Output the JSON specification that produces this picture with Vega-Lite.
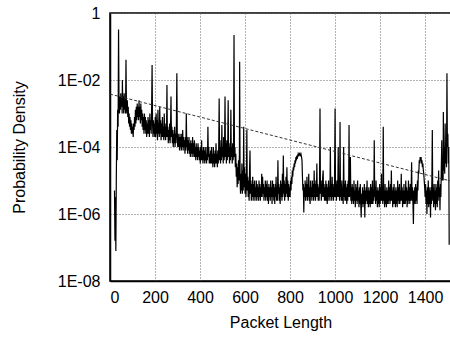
{
  "$schema": "https://vega.github.io/schema/vega-lite/v6.json",
  "width": 341,
  "height": 268,
  "autosize": {"type": "none"},
  "padding": {"left": 110, "top": 13, "right": 0, "bottom": 56},
  "background": "white",
  "config": {
    "font": "Liberation Sans",
    "view": {"stroke": "black", "strokeWidth": 1.5},
    "axis": {
      "labelFont": "Liberation Sans",
      "titleFont": "Liberation Sans",
      "labelFontSize": 16,
      "titleFontSize": 16,
      "titleFontWeight": "normal",
      "labelColor": "black",
      "titleColor": "black",
      "domainColor": "black",
      "domainWidth": 1.5,
      "ticks": false,
      "grid": true,
      "gridColor": "#666666",
      "gridDash": [1, 2],
      "gridWidth": 1,
      "gridOpacity": 1
    }
  },
  "datasets": {
    "pdf": [
      {"len":20,"pdf":5.0e-6},{"len":22,"pdf":1.6e-7},{"len":24,"pdf":3.2e-6},{"len":26,"pdf":7.9e-8},{"len":28,"pdf":1.0e-5},
      {"len":30,"pdf":3.2e-4},{"len":32,"pdf":4.0e-5},{"len":34,"pdf":1.3e-3},{"len":36,"pdf":4.0e-4},{"len":38,"pdf":0.32},
      {"len":40,"pdf":2.5e-3},{"len":42,"pdf":1.0e-3},{"len":44,"pdf":3.2e-3},{"len":46,"pdf":1.3e-3},{"len":48,"pdf":4.0e-3},
      {"len":50,"pdf":1.6e-3},{"len":52,"pdf":2.5e-3},{"len":54,"pdf":1.0e-3},{"len":55,"pdf":1.0e-2},{"len":57,"pdf":1.6e-3},
      {"len":59,"pdf":3.2e-3},{"len":61,"pdf":1.0e-3},{"len":63,"pdf":4.0e-3},{"len":65,"pdf":1.3e-3},{"len":67,"pdf":2.5e-3},
      {"len":69,"pdf":1.0e-3},{"len":71,"pdf":4.0e-2},{"len":73,"pdf":2.0e-3},{"len":75,"pdf":1.0e-3},{"len":77,"pdf":2.5e-3},
      {"len":79,"pdf":7.9e-4},{"len":81,"pdf":1.6e-3},{"len":83,"pdf":5.0e-4},{"len":85,"pdf":1.0e-3},{"len":87,"pdf":4.0e-4},
      {"len":89,"pdf":7.9e-4},{"len":91,"pdf":3.2e-4},{"len":93,"pdf":6.3e-4},{"len":95,"pdf":2.5e-4},{"len":97,"pdf":5.0e-4},
      {"len":99,"pdf":2.5e-4},{"len":101,"pdf":4.0e-4},{"len":103,"pdf":2.0e-4},{"len":105,"pdf":5.0e-4},{"len":107,"pdf":3.2e-4},
      {"len":109,"pdf":7.9e-4},{"len":111,"pdf":4.0e-4},{"len":113,"pdf":1.3e-3},{"len":115,"pdf":5.0e-4},{"len":117,"pdf":1.6e-3},
      {"len":119,"pdf":6.3e-4},{"len":121,"pdf":2.0e-3},{"len":123,"pdf":7.9e-4},{"len":125,"pdf":1.6e-3},{"len":127,"pdf":6.3e-4},
      {"len":129,"pdf":2.5e-3},{"len":131,"pdf":7.9e-4},{"len":133,"pdf":1.6e-3},{"len":135,"pdf":5.0e-4},{"len":137,"pdf":2.0e-3},
      {"len":139,"pdf":6.3e-4},{"len":141,"pdf":1.3e-3},{"len":143,"pdf":4.0e-4},{"len":145,"pdf":1.0e-3},{"len":147,"pdf":3.2e-4},
      {"len":149,"pdf":7.9e-4},{"len":151,"pdf":2.5e-4},{"len":153,"pdf":1.0e-3},{"len":155,"pdf":3.2e-4},{"len":157,"pdf":7.9e-4},
      {"len":159,"pdf":2.5e-4},{"len":161,"pdf":6.3e-4},{"len":163,"pdf":2.0e-4},{"len":165,"pdf":5.0e-4},{"len":167,"pdf":2.5e-4},
      {"len":169,"pdf":7.9e-4},{"len":171,"pdf":2.5e-4},{"len":173,"pdf":6.3e-4},{"len":175,"pdf":2.0e-4},{"len":177,"pdf":1.0e-3},
      {"len":179,"pdf":3.2e-4},{"len":181,"pdf":6.3e-4},{"len":183,"pdf":2.5e-4},{"len":185,"pdf":1.6e-3},{"len":187,"pdf":2.8e-2},
      {"len":189,"pdf":5.0e-4},{"len":191,"pdf":2.0e-4},{"len":193,"pdf":6.3e-4},{"len":195,"pdf":2.5e-4},{"len":197,"pdf":5.0e-4},
      {"len":199,"pdf":2.0e-4},{"len":201,"pdf":7.9e-4},{"len":203,"pdf":2.0e-4},{"len":205,"pdf":1.0e-3},{"len":207,"pdf":2.5e-4},
      {"len":209,"pdf":6.3e-4},{"len":211,"pdf":1.6e-4},{"len":213,"pdf":1.3e-3},{"len":215,"pdf":2.5e-4},{"len":217,"pdf":5.0e-4},
      {"len":219,"pdf":2.0e-4},{"len":221,"pdf":1.6e-3},{"len":223,"pdf":2.5e-4},{"len":225,"pdf":6.3e-4},{"len":227,"pdf":1.6e-4},
      {"len":229,"pdf":5.0e-4},{"len":231,"pdf":2.0e-4},{"len":233,"pdf":7.9e-4},{"len":235,"pdf":2.0e-4},{"len":237,"pdf":4.0e-4},
      {"len":239,"pdf":1.6e-4},{"len":241,"pdf":1.0e-3},{"len":243,"pdf":2.0e-4},{"len":245,"pdf":5.0e-4},{"len":247,"pdf":1.6e-4},
      {"len":249,"pdf":4.0e-4},{"len":251,"pdf":2.0e-4},{"len":253,"pdf":7.1e-3},{"len":255,"pdf":2.0e-4},{"len":257,"pdf":4.0e-4},
      {"len":259,"pdf":1.3e-4},{"len":261,"pdf":3.2e-4},{"len":263,"pdf":1.6e-4},{"len":265,"pdf":5.0e-4},{"len":267,"pdf":1.3e-4},
      {"len":269,"pdf":4.0e-4},{"len":271,"pdf":3.2e-3},{"len":273,"pdf":2.0e-4},{"len":275,"pdf":4.0e-4},{"len":277,"pdf":1.3e-4},
      {"len":279,"pdf":3.2e-4},{"len":281,"pdf":1.0e-4},{"len":283,"pdf":2.5e-4},{"len":285,"pdf":1.3e-4},{"len":287,"pdf":4.0e-4},
      {"len":289,"pdf":1.0e-4},{"len":291,"pdf":2.5e-4},{"len":293,"pdf":1.3e-4},{"len":295,"pdf":5.0e-4},{"len":297,"pdf":1.6e-2},
      {"len":299,"pdf":2.0e-4},{"len":301,"pdf":1.0e-4},{"len":303,"pdf":2.5e-4},{"len":305,"pdf":1.0e-4},{"len":307,"pdf":2.0e-4},
      {"len":309,"pdf":7.9e-5},{"len":311,"pdf":2.5e-4},{"len":313,"pdf":1.0e-4},{"len":315,"pdf":2.0e-4},{"len":317,"pdf":7.9e-5},
      {"len":319,"pdf":2.5e-4},{"len":321,"pdf":1.0e-4},{"len":323,"pdf":3.2e-4},{"len":325,"pdf":7.9e-5},{"len":327,"pdf":2.0e-4},
      {"len":329,"pdf":1.0e-4},{"len":331,"pdf":1.6e-4},{"len":333,"pdf":6.3e-5},{"len":335,"pdf":2.0e-4},{"len":337,"pdf":7.9e-5},
      {"len":339,"pdf":1.0e-3},{"len":341,"pdf":1.0e-4},{"len":343,"pdf":2.0e-4},{"len":345,"pdf":6.3e-5},{"len":347,"pdf":1.6e-4},
      {"len":349,"pdf":7.9e-5},{"len":351,"pdf":2.0e-4},{"len":353,"pdf":6.3e-5},{"len":355,"pdf":1.3e-4},{"len":357,"pdf":5.0e-5},
      {"len":359,"pdf":1.6e-4},{"len":361,"pdf":6.3e-5},{"len":363,"pdf":1.3e-4},{"len":365,"pdf":5.0e-5},{"len":367,"pdf":2.0e-4},
      {"len":369,"pdf":6.3e-5},{"len":371,"pdf":1.3e-4},{"len":373,"pdf":5.0e-5},{"len":375,"pdf":1.6e-4},{"len":377,"pdf":5.0e-5},
      {"len":379,"pdf":1.0e-4},{"len":381,"pdf":4.0e-5},{"len":383,"pdf":1.3e-4},{"len":385,"pdf":5.0e-5},{"len":387,"pdf":1.0e-4},
      {"len":389,"pdf":4.0e-5},{"len":391,"pdf":1.3e-4},{"len":393,"pdf":5.0e-5},{"len":395,"pdf":1.0e-4},{"len":397,"pdf":4.0e-5},
      {"len":399,"pdf":7.9e-5},{"len":401,"pdf":3.2e-5},{"len":403,"pdf":1.0e-4},{"len":405,"pdf":4.0e-5},{"len":407,"pdf":1.6e-4},
      {"len":409,"pdf":4.0e-5},{"len":411,"pdf":7.9e-5},{"len":413,"pdf":3.2e-5},{"len":415,"pdf":1.0e-4},{"len":417,"pdf":4.0e-5},
      {"len":419,"pdf":7.9e-5},{"len":421,"pdf":3.2e-5},{"len":423,"pdf":1.0e-4},{"len":425,"pdf":4.0e-5},{"len":427,"pdf":6.3e-5},
      {"len":429,"pdf":3.2e-5},{"len":431,"pdf":1.0e-4},{"len":433,"pdf":4.0e-5},{"len":435,"pdf":4.0e-4},{"len":437,"pdf":5.0e-5},
      {"len":439,"pdf":1.0e-4},{"len":441,"pdf":3.2e-5},{"len":443,"pdf":6.3e-5},{"len":445,"pdf":3.2e-5},{"len":447,"pdf":7.9e-5},
      {"len":449,"pdf":3.2e-5},{"len":451,"pdf":1.0e-4},{"len":453,"pdf":3.2e-5},{"len":455,"pdf":6.3e-5},{"len":457,"pdf":2.5e-5},
      {"len":459,"pdf":1.0e-4},{"len":461,"pdf":3.2e-5},{"len":463,"pdf":6.3e-5},{"len":465,"pdf":2.5e-5},{"len":467,"pdf":7.9e-5},
      {"len":469,"pdf":3.2e-5},{"len":471,"pdf":1.3e-4},{"len":473,"pdf":3.2e-5},{"len":475,"pdf":6.3e-5},{"len":477,"pdf":2.5e-5},
      {"len":479,"pdf":7.9e-5},{"len":481,"pdf":3.2e-5},{"len":483,"pdf":1.0e-4},{"len":485,"pdf":2.8e-3},{"len":487,"pdf":4.0e-5},
      {"len":489,"pdf":1.6e-4},{"len":491,"pdf":3.2e-5},{"len":493,"pdf":1.0e-4},{"len":495,"pdf":4.0e-5},{"len":497,"pdf":4.5e-4},
      {"len":499,"pdf":5.0e-5},{"len":501,"pdf":1.0e-4},{"len":503,"pdf":3.2e-5},{"len":505,"pdf":2.0e-4},{"len":507,"pdf":4.0e-5},
      {"len":509,"pdf":1.0e-4},{"len":511,"pdf":3.2e-3},{"len":513,"pdf":5.0e-5},{"len":515,"pdf":1.3e-4},{"len":517,"pdf":3.2e-5},
      {"len":519,"pdf":1.6e-4},{"len":521,"pdf":4.0e-5},{"len":523,"pdf":1.0e-4},{"len":525,"pdf":2.5e-3},{"len":527,"pdf":5.0e-5},
      {"len":529,"pdf":1.3e-4},{"len":531,"pdf":3.2e-5},{"len":533,"pdf":1.0e-4},{"len":535,"pdf":4.0e-5},{"len":537,"pdf":1.3e-3},
      {"len":539,"pdf":5.0e-5},{"len":541,"pdf":1.0e-4},{"len":543,"pdf":3.2e-5},{"len":545,"pdf":1.3e-4},{"len":547,"pdf":4.0e-5},
      {"len":549,"pdf":1.0e-4},{"len":551,"pdf":0.22},{"len":553,"pdf":5.0e-5},{"len":555,"pdf":1.0e-4},{"len":557,"pdf":2.5e-5},
      {"len":559,"pdf":6.3e-5},{"len":561,"pdf":1.3e-5},{"len":563,"pdf":3.2e-5},{"len":565,"pdf":6.3e-6},{"len":567,"pdf":2.5e-5},
      {"len":569,"pdf":7.9e-6},{"len":571,"pdf":4.0e-5},{"len":573,"pdf":1.0e-5},{"len":575,"pdf":6.3e-5},{"len":576,"pdf":3.5e-2},
      {"len":578,"pdf":1.0e-5},{"len":580,"pdf":4.0e-6},{"len":582,"pdf":1.6e-5},{"len":584,"pdf":5.0e-6},{"len":586,"pdf":3.2e-5},
      {"len":588,"pdf":4.0e-6},{"len":590,"pdf":2.0e-5},{"len":592,"pdf":5.0e-6},{"len":594,"pdf":4.0e-4},{"len":596,"pdf":6.3e-6},
      {"len":598,"pdf":2.5e-5},{"len":600,"pdf":4.0e-6},{"len":602,"pdf":1.6e-5},{"len":604,"pdf":3.2e-6},{"len":606,"pdf":1.0e-5},
      {"len":608,"pdf":3.2e-4},{"len":610,"pdf":5.0e-6},{"len":612,"pdf":1.3e-5},{"len":614,"pdf":3.2e-6},{"len":616,"pdf":1.0e-5},
      {"len":618,"pdf":2.5e-6},{"len":620,"pdf":2.0e-5},{"len":622,"pdf":7.9e-5},{"len":624,"pdf":4.0e-6},{"len":626,"pdf":1.0e-5},
      {"len":628,"pdf":2.5e-6},{"len":630,"pdf":7.9e-6},{"len":632,"pdf":3.2e-6},{"len":634,"pdf":1.3e-5},{"len":636,"pdf":2.5e-6},
      {"len":638,"pdf":7.9e-6},{"len":640,"pdf":3.2e-6},{"len":642,"pdf":1.0e-5},{"len":644,"pdf":2.5e-6},{"len":646,"pdf":6.3e-6},
      {"len":648,"pdf":3.2e-6},{"len":650,"pdf":1.0e-5},{"len":652,"pdf":2.5e-6},{"len":654,"pdf":7.9e-6},{"len":656,"pdf":3.2e-6},
      {"len":658,"pdf":6.3e-6},{"len":660,"pdf":2.5e-6},{"len":662,"pdf":1.0e-5},{"len":664,"pdf":3.2e-6},{"len":666,"pdf":7.9e-6},
      {"len":668,"pdf":2.5e-6},{"len":670,"pdf":6.3e-6},{"len":672,"pdf":3.2e-6},{"len":674,"pdf":1.6e-5},{"len":676,"pdf":3.2e-6},
      {"len":678,"pdf":1.3e-5},{"len":680,"pdf":4.0e-6},{"len":682,"pdf":7.9e-6},{"len":684,"pdf":2.5e-6},{"len":686,"pdf":6.3e-6},
      {"len":688,"pdf":3.2e-6},{"len":690,"pdf":1.0e-5},{"len":692,"pdf":2.5e-6},{"len":694,"pdf":7.9e-6},{"len":696,"pdf":3.2e-6},
      {"len":698,"pdf":1.0e-5},{"len":700,"pdf":2.5e-6},{"len":702,"pdf":6.3e-6},{"len":704,"pdf":2.0e-6},{"len":706,"pdf":7.9e-6},
      {"len":708,"pdf":3.2e-6},{"len":710,"pdf":6.3e-6},{"len":712,"pdf":2.5e-6},{"len":714,"pdf":1.0e-5},{"len":716,"pdf":3.2e-6},
      {"len":718,"pdf":6.3e-6},{"len":720,"pdf":2.0e-6},{"len":722,"pdf":1.0e-5},{"len":724,"pdf":3.2e-6},{"len":726,"pdf":7.9e-6},
      {"len":728,"pdf":2.5e-6},{"len":730,"pdf":6.3e-6},{"len":732,"pdf":2.0e-6},{"len":734,"pdf":7.9e-6},{"len":736,"pdf":3.2e-6},
      {"len":738,"pdf":1.3e-5},{"len":740,"pdf":2.5e-6},{"len":742,"pdf":6.3e-6},{"len":744,"pdf":2.5e-6},{"len":746,"pdf":4.0e-5},
      {"len":748,"pdf":4.0e-6},{"len":750,"pdf":7.9e-6},{"len":752,"pdf":2.5e-6},{"len":754,"pdf":6.3e-6},{"len":756,"pdf":2.0e-6},
      {"len":758,"pdf":1.0e-5},{"len":760,"pdf":3.2e-6},{"len":762,"pdf":7.9e-6},{"len":764,"pdf":2.5e-6},{"len":766,"pdf":1.6e-5},
      {"len":768,"pdf":3.2e-6},{"len":770,"pdf":5.6e-5},{"len":772,"pdf":4.0e-6},{"len":774,"pdf":1.0e-5},{"len":776,"pdf":2.5e-6},
      {"len":778,"pdf":7.9e-6},{"len":780,"pdf":3.2e-6},{"len":782,"pdf":1.3e-5},{"len":784,"pdf":4.0e-6},{"len":786,"pdf":2.5e-5},
      {"len":788,"pdf":3.2e-6},{"len":790,"pdf":1.0e-5},{"len":792,"pdf":2.5e-6},{"len":794,"pdf":7.9e-6},{"len":796,"pdf":3.2e-6},
      {"len":798,"pdf":6.3e-6},{"len":800,"pdf":3.2e-6},{"len":802,"pdf":1.0e-5},{"len":804,"pdf":5.0e-6},{"len":806,"pdf":1.3e-5},
      {"len":808,"pdf":7.9e-6},{"len":810,"pdf":2.0e-5},{"len":812,"pdf":1.3e-5},{"len":814,"pdf":2.5e-5},{"len":816,"pdf":2.0e-5},
      {"len":818,"pdf":3.2e-5},{"len":820,"pdf":2.5e-5},{"len":822,"pdf":4.0e-5},{"len":824,"pdf":3.2e-5},{"len":826,"pdf":5.0e-5},
      {"len":828,"pdf":4.0e-5},{"len":830,"pdf":5.6e-5},{"len":833,"pdf":5.0e-5},{"len":836,"pdf":6.3e-5},{"len":839,"pdf":5.6e-5},
      {"len":842,"pdf":6.3e-5},{"len":845,"pdf":5.6e-5},{"len":848,"pdf":6.3e-5},{"len":851,"pdf":5.0e-5},{"len":853,"pdf":4.0e-5},
      {"len":855,"pdf":1.3e-5},{"len":857,"pdf":5.0e-6},{"len":859,"pdf":7.9e-6},{"len":861,"pdf":1.1e-6},{"len":863,"pdf":6.3e-6},
      {"len":865,"pdf":3.2e-6},{"len":867,"pdf":1.0e-5},{"len":869,"pdf":2.5e-6},{"len":871,"pdf":7.9e-6},{"len":873,"pdf":3.2e-6},
      {"len":875,"pdf":1.3e-5},{"len":877,"pdf":2.5e-6},{"len":879,"pdf":7.9e-6},{"len":881,"pdf":3.2e-6},{"len":883,"pdf":1.6e-5},
      {"len":885,"pdf":2.5e-6},{"len":887,"pdf":6.3e-6},{"len":889,"pdf":2.0e-6},{"len":891,"pdf":1.0e-5},{"len":893,"pdf":3.2e-6},
      {"len":895,"pdf":6.3e-6},{"len":897,"pdf":2.5e-6},{"len":899,"pdf":1.0e-5},{"len":901,"pdf":3.2e-6},{"len":903,"pdf":7.9e-6},
      {"len":905,"pdf":2.5e-6},{"len":907,"pdf":2.0e-5},{"len":909,"pdf":3.2e-6},{"len":911,"pdf":7.9e-6},{"len":913,"pdf":2.5e-6},
      {"len":915,"pdf":1.0e-5},{"len":917,"pdf":3.2e-6},{"len":919,"pdf":3.2e-5},{"len":921,"pdf":3.2e-6},{"len":923,"pdf":7.9e-6},
      {"len":925,"pdf":2.5e-6},{"len":927,"pdf":6.3e-6},{"len":929,"pdf":2.5e-6},{"len":931,"pdf":1.0e-5},{"len":933,"pdf":1.4e-3},
      {"len":935,"pdf":4.0e-6},{"len":937,"pdf":7.9e-6},{"len":939,"pdf":2.5e-6},{"len":941,"pdf":1.0e-5},{"len":943,"pdf":3.2e-6},
      {"len":945,"pdf":1.3e-5},{"len":947,"pdf":2.0e-5},{"len":949,"pdf":3.2e-6},{"len":951,"pdf":7.9e-6},{"len":953,"pdf":2.5e-6},
      {"len":955,"pdf":6.3e-6},{"len":957,"pdf":2.5e-6},{"len":959,"pdf":1.0e-5},{"len":961,"pdf":2.5e-6},{"len":963,"pdf":7.9e-6},
      {"len":965,"pdf":2.0e-6},{"len":967,"pdf":6.3e-6},{"len":969,"pdf":2.5e-6},{"len":971,"pdf":1.0e-5},{"len":973,"pdf":3.2e-6},
      {"len":975,"pdf":6.3e-6},{"len":977,"pdf":2.5e-6},{"len":979,"pdf":1.0e-4},{"len":981,"pdf":3.2e-6},{"len":983,"pdf":7.9e-6},
      {"len":985,"pdf":2.5e-6},{"len":987,"pdf":1.3e-5},{"len":989,"pdf":3.2e-6},{"len":991,"pdf":7.9e-6},{"len":993,"pdf":2.5e-6},
      {"len":995,"pdf":6.3e-6},{"len":997,"pdf":3.2e-6},{"len":1000,"pdf":1.4e-3},{"len":1002,"pdf":3.2e-6},{"len":1004,"pdf":7.9e-6},
      {"len":1006,"pdf":2.5e-6},{"len":1008,"pdf":1.0e-5},{"len":1010,"pdf":3.2e-6},{"len":1012,"pdf":6.3e-6},{"len":1014,"pdf":1.0e-4},
      {"len":1016,"pdf":3.2e-6},{"len":1018,"pdf":7.9e-6},{"len":1020,"pdf":2.5e-6},{"len":1022,"pdf":5.6e-4},{"len":1024,"pdf":3.2e-6},
      {"len":1026,"pdf":7.9e-6},{"len":1028,"pdf":2.5e-6},{"len":1030,"pdf":1.0e-5},{"len":1032,"pdf":2.5e-6},{"len":1034,"pdf":6.3e-6},
      {"len":1036,"pdf":2.0e-6},{"len":1038,"pdf":1.0e-4},{"len":1040,"pdf":3.2e-6},{"len":1042,"pdf":7.9e-6},{"len":1044,"pdf":2.5e-6},
      {"len":1046,"pdf":1.0e-5},{"len":1048,"pdf":2.5e-6},{"len":1050,"pdf":6.3e-6},{"len":1052,"pdf":2.0e-6},{"len":1054,"pdf":7.9e-6},
      {"len":1056,"pdf":2.5e-6},{"len":1058,"pdf":1.0e-5},{"len":1060,"pdf":3.2e-6},{"len":1062,"pdf":4.5e-4},{"len":1064,"pdf":3.2e-6},
      {"len":1066,"pdf":7.9e-6},{"len":1068,"pdf":5.0e-5},{"len":1070,"pdf":2.5e-6},{"len":1072,"pdf":6.3e-6},{"len":1074,"pdf":2.0e-6},
      {"len":1076,"pdf":7.9e-6},{"len":1078,"pdf":2.5e-6},{"len":1080,"pdf":6.3e-6},{"len":1082,"pdf":2.0e-6},{"len":1084,"pdf":1.0e-5},
      {"len":1086,"pdf":2.5e-6},{"len":1088,"pdf":5.0e-6},{"len":1090,"pdf":1.6e-6},{"len":1092,"pdf":7.9e-6},{"len":1094,"pdf":2.5e-6},
      {"len":1096,"pdf":6.3e-6},{"len":1098,"pdf":2.0e-6},{"len":1100,"pdf":1.0e-5},{"len":1102,"pdf":2.5e-6},{"len":1104,"pdf":5.0e-6},
      {"len":1106,"pdf":1.6e-6},{"len":1108,"pdf":6.3e-6},{"len":1110,"pdf":2.0e-6},{"len":1112,"pdf":7.9e-6},{"len":1114,"pdf":2.0e-6},
      {"len":1116,"pdf":7.9e-7},{"len":1118,"pdf":4.0e-6},{"len":1120,"pdf":2.0e-6},{"len":1122,"pdf":6.3e-6},{"len":1124,"pdf":1.6e-6},
      {"len":1126,"pdf":5.0e-6},{"len":1128,"pdf":2.0e-6},{"len":1130,"pdf":7.9e-6},{"len":1132,"pdf":7.9e-7},{"len":1134,"pdf":5.0e-6},
      {"len":1136,"pdf":2.0e-6},{"len":1138,"pdf":6.3e-6},{"len":1140,"pdf":2.5e-6},{"len":1142,"pdf":1.0e-5},{"len":1144,"pdf":2.0e-6},
      {"len":1146,"pdf":5.0e-6},{"len":1148,"pdf":1.6e-6},{"len":1150,"pdf":6.3e-6},{"len":1152,"pdf":2.0e-6},{"len":1154,"pdf":5.0e-6},
      {"len":1156,"pdf":1.6e-6},{"len":1158,"pdf":7.9e-6},{"len":1160,"pdf":2.0e-6},{"len":1162,"pdf":6.3e-6},{"len":1164,"pdf":2.0e-6},
      {"len":1166,"pdf":1.0e-5},{"len":1168,"pdf":2.0e-6},{"len":1170,"pdf":5.0e-6},{"len":1172,"pdf":2.5e-6},{"len":1174,"pdf":1.6e-4},
      {"len":1176,"pdf":3.2e-6},{"len":1178,"pdf":6.3e-6},{"len":1180,"pdf":2.0e-6},{"len":1182,"pdf":1.0e-5},{"len":1184,"pdf":2.5e-6},
      {"len":1186,"pdf":5.0e-6},{"len":1188,"pdf":1.6e-6},{"len":1190,"pdf":6.3e-6},{"len":1192,"pdf":2.0e-6},{"len":1194,"pdf":5.0e-6},
      {"len":1196,"pdf":1.6e-6},{"len":1198,"pdf":7.9e-6},{"len":1200,"pdf":2.0e-6},{"len":1202,"pdf":6.3e-6},{"len":1204,"pdf":2.5e-6},
      {"len":1206,"pdf":1.6e-5},{"len":1208,"pdf":2.5e-6},{"len":1210,"pdf":6.3e-6},{"len":1212,"pdf":2.0e-6},{"len":1214,"pdf":4.0e-4},
      {"len":1216,"pdf":2.5e-6},{"len":1218,"pdf":5.0e-6},{"len":1220,"pdf":1.6e-6},{"len":1222,"pdf":7.9e-6},{"len":1224,"pdf":2.0e-6},
      {"len":1226,"pdf":5.0e-6},{"len":1228,"pdf":1.6e-6},{"len":1230,"pdf":6.3e-6},{"len":1232,"pdf":2.0e-6},{"len":1234,"pdf":5.0e-6},
      {"len":1236,"pdf":2.0e-6},{"len":1238,"pdf":1.0e-5},{"len":1240,"pdf":2.5e-6},{"len":1242,"pdf":6.3e-6},{"len":1244,"pdf":2.0e-6},
      {"len":1246,"pdf":7.9e-6},{"len":1248,"pdf":2.5e-6},{"len":1250,"pdf":2.0e-5},{"len":1252,"pdf":2.5e-6},{"len":1254,"pdf":5.0e-6},
      {"len":1256,"pdf":1.6e-6},{"len":1258,"pdf":6.3e-6},{"len":1260,"pdf":2.0e-6},{"len":1262,"pdf":7.9e-6},{"len":1264,"pdf":2.0e-6},
      {"len":1266,"pdf":5.0e-6},{"len":1268,"pdf":1.6e-6},{"len":1270,"pdf":6.3e-6},{"len":1272,"pdf":2.0e-6},{"len":1274,"pdf":5.0e-6},
      {"len":1276,"pdf":1.6e-6},{"len":1278,"pdf":1.0e-5},{"len":1280,"pdf":2.5e-6},{"len":1282,"pdf":6.3e-6},{"len":1284,"pdf":2.0e-6},
      {"len":1286,"pdf":7.9e-6},{"len":1288,"pdf":2.0e-6},{"len":1290,"pdf":5.0e-6},{"len":1292,"pdf":2.5e-6},{"len":1294,"pdf":1.6e-5},
      {"len":1296,"pdf":2.5e-6},{"len":1298,"pdf":6.3e-6},{"len":1300,"pdf":1.6e-6},{"len":1302,"pdf":5.0e-6},{"len":1304,"pdf":2.0e-6},
      {"len":1306,"pdf":7.9e-6},{"len":1308,"pdf":2.0e-6},{"len":1310,"pdf":5.0e-6},{"len":1312,"pdf":2.0e-6},{"len":1314,"pdf":1.0e-5},
      {"len":1316,"pdf":2.5e-6},{"len":1318,"pdf":6.3e-6},{"len":1320,"pdf":1.6e-6},{"len":1322,"pdf":5.0e-6},{"len":1324,"pdf":2.0e-6},
      {"len":1326,"pdf":1.0e-5},{"len":1328,"pdf":2.5e-6},{"len":1330,"pdf":6.3e-6},{"len":1332,"pdf":2.0e-6},{"len":1334,"pdf":7.9e-6},
      {"len":1336,"pdf":2.5e-6},{"len":1338,"pdf":5.0e-6},{"len":1340,"pdf":3.5e-5},{"len":1342,"pdf":2.5e-6},{"len":1344,"pdf":6.3e-6},
      {"len":1346,"pdf":2.0e-6},{"len":1348,"pdf":5.0e-7},{"len":1350,"pdf":5.0e-6},{"len":1352,"pdf":2.0e-6},{"len":1354,"pdf":6.3e-6},
      {"len":1356,"pdf":2.0e-6},{"len":1358,"pdf":7.9e-6},{"len":1360,"pdf":2.5e-6},{"len":1362,"pdf":6.3e-6},{"len":1364,"pdf":2.0e-6},
      {"len":1366,"pdf":1.0e-5},{"len":1368,"pdf":5.0e-6},{"len":1370,"pdf":2.0e-5},{"len":1372,"pdf":1.6e-5},{"len":1374,"pdf":4.0e-5},
      {"len":1376,"pdf":3.2e-5},{"len":1378,"pdf":5.0e-5},{"len":1380,"pdf":4.0e-5},{"len":1382,"pdf":5.0e-5},{"len":1384,"pdf":3.2e-5},
      {"len":1386,"pdf":4.0e-5},{"len":1388,"pdf":2.5e-5},{"len":1390,"pdf":3.2e-5},{"len":1392,"pdf":2.0e-5},{"len":1394,"pdf":1.6e-5},
      {"len":1396,"pdf":1.0e-5},{"len":1398,"pdf":6.3e-6},{"len":1400,"pdf":3.2e-6},{"len":1402,"pdf":7.9e-6},{"len":1404,"pdf":2.0e-6},
      {"len":1406,"pdf":5.0e-6},{"len":1408,"pdf":1.0e-6},{"len":1410,"pdf":6.3e-6},{"len":1412,"pdf":2.0e-6},{"len":1414,"pdf":1.0e-5},
      {"len":1416,"pdf":1.6e-6},{"len":1418,"pdf":6.3e-6},{"len":1420,"pdf":2.0e-6},{"len":1422,"pdf":5.0e-6},{"len":1424,"pdf":7.9e-7},
      {"len":1426,"pdf":6.3e-6},{"len":1428,"pdf":2.0e-6},{"len":1430,"pdf":1.0e-5},{"len":1432,"pdf":3.2e-4},{"len":1434,"pdf":2.5e-6},
      {"len":1436,"pdf":6.3e-6},{"len":1438,"pdf":1.6e-6},{"len":1440,"pdf":7.9e-6},{"len":1442,"pdf":2.0e-6},{"len":1444,"pdf":5.0e-6},
      {"len":1446,"pdf":1.3e-6},{"len":1448,"pdf":7.9e-6},{"len":1450,"pdf":2.0e-6},{"len":1452,"pdf":6.3e-6},{"len":1454,"pdf":1.6e-6},
      {"len":1456,"pdf":1.0e-5},{"len":1458,"pdf":2.5e-6},{"len":1460,"pdf":2.0e-5},{"len":1462,"pdf":3.2e-6},{"len":1464,"pdf":6.3e-6},
      {"len":1466,"pdf":1.3e-6},{"len":1468,"pdf":7.9e-6},{"len":1470,"pdf":3.2e-6},{"len":1472,"pdf":2.5e-5},{"len":1474,"pdf":1.6e-4},
      {"len":1476,"pdf":1.0e-5},{"len":1478,"pdf":4.0e-5},{"len":1480,"pdf":1.0e-5},{"len":1481,"pdf":1.1e-3},{"len":1483,"pdf":2.0e-5},
      {"len":1485,"pdf":1.0e-4},{"len":1487,"pdf":1.6e-5},{"len":1489,"pdf":5.0e-4},{"len":1491,"pdf":3.2e-5},{"len":1493,"pdf":1.0e-4},
      {"len":1495,"pdf":2.5e-5},{"len":1497,"pdf":1.6e-2},{"len":1499,"pdf":1.0e-4},{"len":1501,"pdf":2.5e-4},{"len":1503,"pdf":3.2e-5},
      {"len":1505,"pdf":1.0e-4},{"len":1507,"pdf":1.2e-7}
    ],
    "fit": [
      {"len": 0, "pdf": 3.8e-3},
      {"len": 1515, "pdf": 9.6e-6}
    ]
  },
  "layer": [
    {
      "data": {"name": "pdf"},
      "mark": {"type": "line", "color": "black", "strokeWidth": 1.2, "clip": true},
      "encoding": {
        "x": {
          "field": "len",
          "type": "quantitative",
          "scale": {"domain": [0, 1515], "nice": false, "zero": false},
          "axis": {
            "values": [0, 200, 400, 600, 800, 1000, 1200, 1400],
            "format": "d",
            "title": "Packet Length",
            "labelPadding": 8,
            "titlePadding": 9
          }
        },
        "y": {
          "field": "pdf",
          "type": "quantitative",
          "scale": {"type": "log", "domain": [1e-8, 1], "nice": false},
          "axis": {
            "values": [1e-8, 1e-6, 1e-4, 1e-2, 1],
            "labelExpr": "datum.value >= 0.5 ? '1' : '1E-0' + format(-log(datum.value) / LN10, '.0f')",
            "title": "Probability Density",
            "labelPadding": 10,
            "titlePadding": 30
          }
        }
      }
    },
    {
      "data": {"name": "fit"},
      "mark": {"type": "line", "color": "#333333", "strokeWidth": 1, "strokeDash": [3, 2], "clip": true},
      "encoding": {
        "x": {"field": "len", "type": "quantitative"},
        "y": {"field": "pdf", "type": "quantitative"}
      }
    }
  ]
}
